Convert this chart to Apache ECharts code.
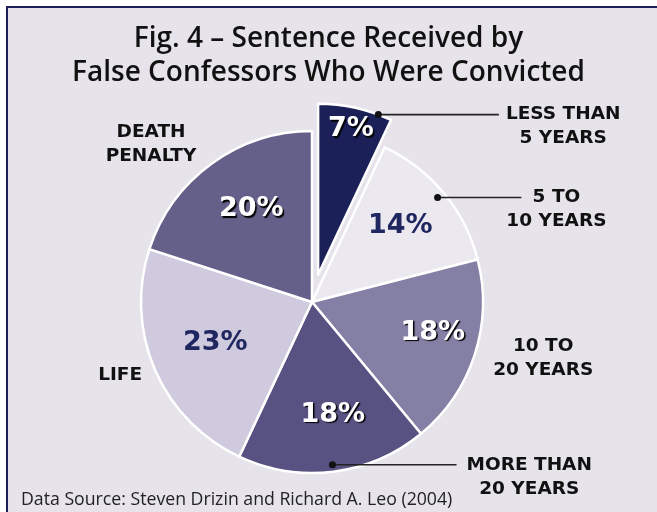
<!DOCTYPE html>
<html>
<head>
<meta charset="utf-8">
<script src="https://cdn.jsdelivr.net/npm/echarts@6/dist/echarts.min.js"></script>
<style>
  html, body { margin: 0; padding: 0; background: #fff; }
  #chart_pie { width: 657px; height: 512px; }
</style>
</head>
<body>
<div id="chart_pie"></div>
<script>
  // data
  var categories = ['LESS THAN\n5 YEARS', '5 TO\n10 YEARS', '10 TO\n20 YEARS', 'MORE THAN\n20 YEARS', 'LIFE', 'DEATH\nPENALTY'];
  var shares = [7, 14, 18, 18, 23, 20];

  // styling
  var sliceColors = ['#1b2158', '#ebe8f0', '#847fa4', '#575282', '#cfcadd', '#646089'];
  var pctColors = ['#fff', '#1f2660', '#fff', '#fff', '#1f2660', '#fff'];
  var pctNudge = [[7, -30], [-3, 0], [8, -6], [6, -5], [12, -6], [9, 3]];
  var hasLeader = [true, true, false, true, false, false];
  var lineLen = [1, 1, 18, 1, 21, 32];
  var lineLen2 = [145, 83, 0, 124, 0, 0];
  var labelGap = [7, -15, 9, 10, 1, 1];

  var cx = 312, cy = 302, R = 171, leaderR = 163, pull = 28;
  var labelFont = 'DejaVu Sans';

  var total = shares.reduce(function (a, b) { return a + b; }, 0);

  // leader lines with a dot where each one starts
  var leaders = [];
  var acc = 0;
  shares.forEach(function (v, i) {
    var mid = (acc + v / 2) / total * 2 * Math.PI;
    acc += v;
    if (!hasLeader[i]) return;
    var sx = Math.sin(mid), sy = -Math.cos(mid);
    var ox = i === 0 ? cx + pull * sx : cx, oy = i === 0 ? cy + pull * sy : cy;
    var py = oy + (leaderR + lineLen[i]) * sy;
    var endX = ox + (leaderR + lineLen[i]) * sx + lineLen2[i];
    var px = i === 0
      ? ox + Math.sqrt(R * R - (py - oy) * (py - oy))   // pulled-out slice: dot on its rim
      : ox + leaderR * sx;
    leaders.push({
      type: 'polyline', z: 99,
      shape: { points: [[px, py], [endX, py]] },
      style: { stroke: '#222', lineWidth: 1.6, fill: null }
    });
    leaders.push({
      type: 'circle', z: 100,
      shape: { cx: px, cy: py, r: 3.5 },
      style: { fill: '#111' }
    });
  });

  var myChart = echarts.init(document.getElementById('chart_pie'));
  var option = {
    backgroundColor: '#fff',
    animation: false,
    title: [
      {
        text: 'Fig. 4 – Sentence Received by\nFalse Confessors Who Were Convicted',
        left: 'center',
        top: 17,
        textStyle: { fontFamily: 'Open Sans', fontSize: 28, fontWeight: 600, lineHeight: 34, color: '#111' }
      },
      {
        text: 'Data Source: Steven Drizin and Richard A. Leo (2004)',
        left: 16,
        top: 486,
        textStyle: { fontFamily: 'Open Sans', fontSize: 17.7, fontWeight: 'normal', color: '#222' }
      }
    ],
    graphic: [
      {
        type: 'rect', z: -100,
        shape: { x: 7, y: 7, width: 700, height: 600 },
        style: { fill: '#e6e3eb', stroke: '#1b2158', lineWidth: 2 }
      }
    ].concat(leaders),
    series: [
      {
        type: 'pie',
        center: [cx, cy],
        radius: R,
        startAngle: 90,
        clockwise: true,
        silent: true,
        selectedMode: 'single',
        selectedOffset: pull,
        avoidLabelOverlap: false,
        label: { show: false },
        labelLine: { show: false },
        itemStyle: { borderColor: '#fff', borderWidth: 2.5 },
        data: shares.map(function (v, i) {
          return { value: v, name: categories[i], selected: i === 0, itemStyle: { color: sliceColors[i] } };
        })
      },
      {
        type: 'pie',
        center: [cx, cy],
        radius: [60, R],
        startAngle: 90,
        clockwise: true,
        silent: true,
        selectedMode: 'single',
        selectedOffset: pull,
        avoidLabelOverlap: false,
        itemStyle: { color: 'rgba(0,0,0,0)', borderWidth: 0 },
        labelLine: { show: false },
        label: {
          position: 'inside',
          formatter: '{c}%',
          fontFamily: labelFont,
          fontWeight: 'bold',
          fontSize: 27,
          textBorderWidth: 0
        },
        labelLayout: function (p) {
          return { dx: pctNudge[p.dataIndex][0], dy: pctNudge[p.dataIndex][1] };
        },
        data: shares.map(function (v, i) {
          var dark = pctColors[i] === '#fff';
          return {
            value: v, name: categories[i], selected: i === 0,
            label: {
              color: pctColors[i],
              textShadowColor: dark ? '#000' : 'transparent',
              textShadowOffsetX: dark ? 1.5 : 0,
              textShadowOffsetY: dark ? 1.5 : 0,
              textShadowBlur: dark ? 1 : 0
            }
          };
        })
      },
      {
        type: 'pie',
        center: [cx, cy],
        radius: leaderR,
        startAngle: 90,
        clockwise: true,
        silent: true,
        selectedMode: 'single',
        selectedOffset: pull,
        avoidLabelOverlap: false,
        itemStyle: { color: 'rgba(0,0,0,0)', borderWidth: 0 },
        label: {
          position: 'outside',
          formatter: function (p) {
            return p.name.split('\n').map(function (s) { return '{a|' + s + '}'; }).join('\n');
          },
          rich: {
            a: { align: 'center', fontFamily: labelFont, fontWeight: 'bold', fontSize: 18.5, lineHeight: 24, color: '#111' }
          }
        },
        data: shares.map(function (v, i) {
          return {
            value: v, name: categories[i], selected: i === 0,
            label: { distanceToLabelLine: labelGap[i], padding: hasLeader[i] ? [24, 0, 0, 0] : 0 },
            labelLine: { show: false, length: lineLen[i], length2: lineLen2[i] }
          };
        })
      }
    ]
  };
  myChart.setOption(option);
  window.addEventListener('resize', function () { myChart.resize(); });
</script>
</body>
</html>
